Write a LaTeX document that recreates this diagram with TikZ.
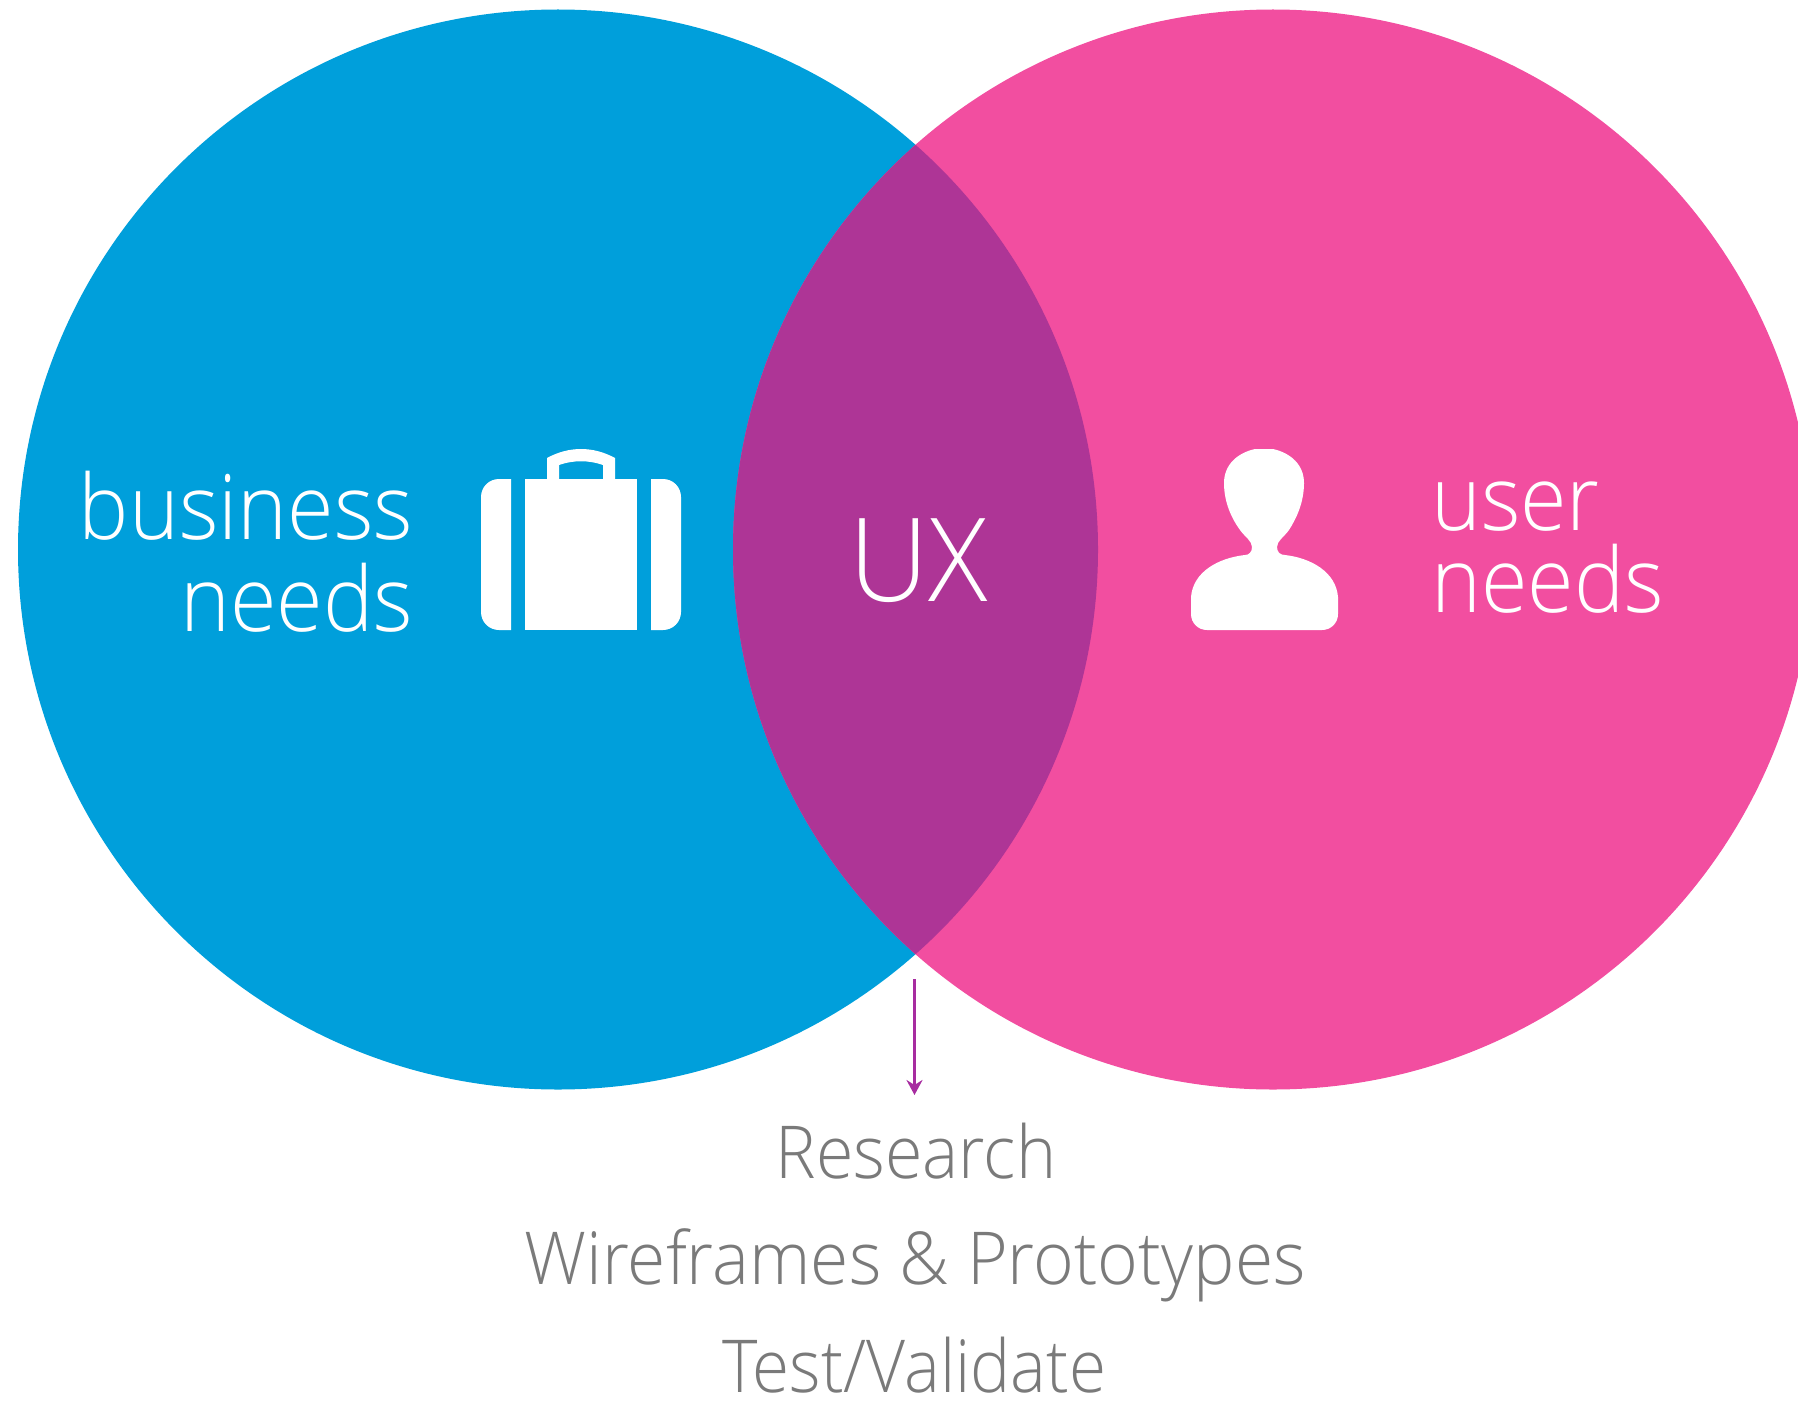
\documentclass[tikz,border=0pt]{standalone}
\usepackage{fontspec}
\setmainfont{Open Sans Light}
\usetikzlibrary{arrows.meta}
\definecolor{bizblue}{HTML}{009FDB}
\definecolor{userpink}{HTML}{F24EA0}
\definecolor{overlap}{HTML}{AE3596}
\definecolor{arrowpurple}{HTML}{A72CA0}
\definecolor{labelgrey}{HTML}{7A7A7A}
\tikzset{
  bigtext/.style={text=white,font=\fontsize{90}{90}\selectfont,inner sep=0pt,xscale=.94,transform shape},
  listtext/.style={text=labelgrey,font=\fontsize{73}{73}\selectfont,inner sep=0pt,anchor=base,transform shape},
  icon/.style={fill=white,draw=none},
}
\begin{document}
\begin{tikzpicture}[x=1pt,y=-1pt]
\useasboundingbox (0,0) rectangle (1798,1407);
\begin{scope}
\clip (0,0) rectangle (1798,1407);
\fill[bizblue] (558,549.5) circle[radius=540];
\fill[userpink] (1273,549.5) circle[radius=540];
\begin{scope}
\clip (558,549.5) circle[radius=540];
\fill[overlap] (1273,549.5) circle[radius=540];
\end{scope}
\end{scope}
% texts
\node[bigtext,anchor=base east] (business) at (413,539) {business};
\node[bigtext,anchor=base east] (bneeds) at (413,631) {needs};
\node[bigtext,anchor=base west] (user) at (1431,530) {user};
\node[bigtext,anchor=base west] (uneeds) at (1431,612) {needs};
\node[text=white,inner sep=0pt,anchor=base,font=\fontsize{116}{116}\selectfont,xscale=.95,transform shape] (ux) at (919,601) {UX};
\node[listtext,xscale=.933] (research) at (916,1178) {Research};
\node[listtext,xscale=.953] (wire) at (915,1284) {Wireframes \& Prototypes};
\node[listtext,xscale=.924] (test) at (914,1392) {Test/Validate};
% briefcase
\fill[icon] (511,479) -- (499,479) .. controls (489,479) and (481,487) .. (481,497) -- (481,612) .. controls (481,622) and (489,630) .. (499,630) -- (511,630) -- cycle;
\fill[icon] (525,479) rectangle (637,630);
\fill[icon] (651,479) -- (663,479) .. controls (673,479) and (681,487) .. (681,497) -- (681,612) .. controls (681,622) and (673,630) .. (663,630) -- (651,630) -- cycle;
\fill[icon] (547,479) -- (547,458) .. controls (569,446) and (593,446) .. (615,458) -- (615,479) -- (603,479) -- (603,465) .. controls (589,460) and (573,460) .. (559,465) -- (559,479) -- cycle;
% person
\fill[icon] (1255,449) -- (1273,449)
  .. controls (1291,453) and (1304,465) .. (1304,483)
  .. controls (1304,503) and (1296,519) .. (1289,530)
  .. controls (1284,537) and (1277,541) .. (1277,547)
  .. controls (1277,552) and (1280,555) .. (1285,555)
  .. controls (1311,558) and (1336,572) .. (1338,597)
  -- (1338,614)
  .. controls (1338,623) and (1331,630) .. (1322,630)
  -- (1207,630)
  .. controls (1198,630) and (1191,623) .. (1191,614)
  -- (1191,597)
  .. controls (1193,572) and (1218,558) .. (1245,555)
  .. controls (1249,555) and (1252,552) .. (1252,547)
  .. controls (1252,541) and (1245,537) .. (1240,530)
  .. controls (1232,519) and (1224,503) .. (1224,483)
  .. controls (1224,465) and (1237,453) .. (1255,449)
  -- cycle;
% arrow
\coordinate (astart) at (914.5,979);
\coordinate (aend) at (914.5,1095);
\draw[arrowpurple,line width=3.4pt,-{Stealth[length=15pt,width=16pt,inset=5pt]}] (astart) -- (aend);
\end{tikzpicture}
\end{document}
